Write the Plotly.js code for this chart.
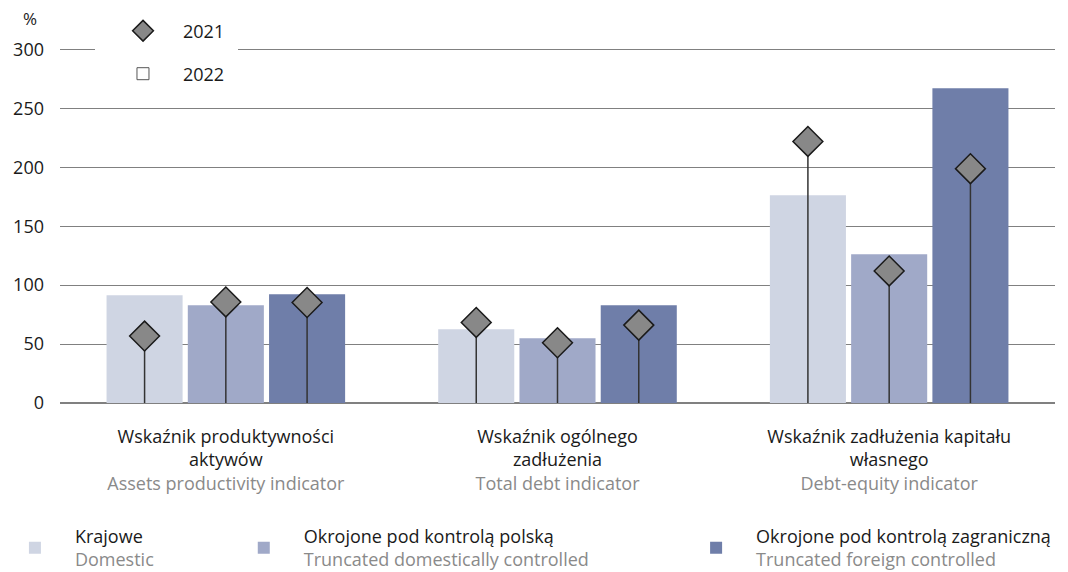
<!DOCTYPE html>
<html>
<head>
<meta charset="utf-8">
<script src="https://cdn.plot.ly/plotly-3.0.1.min.js"></script>
<style>
    html, body { margin: 0; padding: 0; background: #fff; }
    #chart { width: 1068px; height: 572px; }
</style>
</head>
<body>
<div id="chart"></div>
<script>
// === Data ===
const categories = ["Wskaźnik produktywności aktywów", "Wskaźnik ogólnego zadłużenia", "Wskaźnik zadłużenia kapitału własnego"];
const categoriesPl = ["Wskaźnik produktywności<br>aktywów", "Wskaźnik ogólnego<br>zadłużenia", "Wskaźnik zadłużenia kapitału<br>własnego"];
const categoriesEn = ["Assets productivity indicator", "Total debt indicator", "Debt-equity indicator"];

const groupsPl = ["Krajowe", "Okrojone pod kontrolą polską", "Okrojone pod kontrolą zagraniczną"];
const groupsEn = ["Domestic", "Truncated domestically controlled", "Truncated foreign controlled"];

// 2022 (bars)
const domestic2022 = [91.5, 62.7, 176.3];
const polish2022 = [83.0, 55.0, 126.3];
const foreign2022 = [92.4, 83.0, 267.2];

// 2021 (diamonds)
const domestic2021 = [56.8, 68.4, 222.0];
const polish2021 = [85.8, 51.1, 112.1];
const foreign2021 = [85.3, 66.1, 198.9];

const yTicks = [0, 50, 100, 150, 200, 250, 300];

// === Style ===
const colors = ['#cfd5e3', '#a0a9c8', '#6f7ea9'];
const grey = '#8a8a8a';
const font = '"Open Sans", "Noto Sans", sans-serif';

const bars2022 = [domestic2022, polish2022, foreign2022];
const diamonds2021 = [domestic2021, polish2021, foreign2021];
const groupIds = ['d', 'p', 'f'];
const bottomLegends = ['legend3', 'legend4', 'legend5'];

const traces = [];

bars2022.forEach((vals, i) => {
    traces.push({
        type: 'bar',
        x: categories,
        y: vals,
        name: groupsPl[i] + '<br><span style="color:' + grey + '">' + groupsEn[i] + '</span>',
        offsetgroup: groupIds[i],
        legend: bottomLegends[i],
        marker: { color: colors[i], line: { width: 0 } },
        hoverinfo: 'y'
    });
});

diamonds2021.forEach((vals, i) => {
    traces.push({
        type: 'scatter',
        mode: 'markers',
        x: categories,
        y: vals,
        name: '2021',
        offsetgroup: groupIds[i],
        legend: 'legend',
        legendgroup: 'y2021',
        showlegend: i === 0,
        marker: { symbol: 'diamond', size: 23, color: '#888888', line: { color: '#1a1a1a', width: 1.5 } },
        error_y: {
            type: 'data', symmetric: false,
            array: vals.map(() => 0), arrayminus: vals,
            width: 0, thickness: 1.5, color: '#333333'
        },
        hoverinfo: 'y'
    });
});

// legend-only entry for 2022 (no visible point)
traces.push({
    type: 'bar',
    x: [categories[0]],
    y: [null],
    name: '2022',
    offsetgroup: 'f',
    legend: 'legend2',
    marker: { color: '#ffffff', line: { color: '#555555', width: 1 } }
});

const tickText = categoriesPl.map((t, i) => t + '<br><span style="color:' + grey + '">' + categoriesEn[i] + '</span>');

const legendBase = {
    xanchor: 'left', yanchor: 'top',
    orientation: 'v',
    bgcolor: 'rgba(0,0,0,0)',
    borderwidth: 0,
    itemwidth: 70,
    valign: 'middle',
    font: { family: font, size: 18, color: '#1a1a1a' }
};

const layout = {
    width: 1068,
    height: 572,
    margin: { l: 60, r: 13, t: 45.5, b: 169, pad: 0, autoexpand: false },
    paper_bgcolor: '#ffffff',
    plot_bgcolor: '#ffffff',
    font: { family: font, size: 18, color: '#1a1a1a' },
    barmode: 'group',
    bargap: 0.265,
    bargroupgap: 0.064,
    scattermode: 'group',
    scattergap: 0.265,
    showlegend: true,
    xaxis: {
        type: 'category',
        tickvals: categories,
        ticktext: tickText,
        showgrid: false,
        showline: false,
        zeroline: false,
        automargin: false,
        ticks: '',
        ticklabelstandoff: 21,
        tickfont: { family: font, size: 18, color: '#1a1a1a' }
    },
    yaxis: {
        range: [0, 303],
        tickvals: yTicks,
        showgrid: true,
        gridcolor: '#808080',
        gridwidth: 1,
        zeroline: true,
        zerolinecolor: '#808080',
        zerolinewidth: 1.5,
        showline: false,
        automargin: false,
        ticks: '',
        ticklabelstandoff: 15,
        tickfont: { family: font, size: 18, color: '#1a1a1a' }
    },
    legend: Object.assign({}, legendBase, { x: 0.0352, y: 1.1161, bgcolor: '#ffffff', borderwidth: 8, bordercolor: '#ffffff' }),
    legend2: Object.assign({}, legendBase, { x: 0.0432, y: 0.9734, bgcolor: '#ffffff' }),
    legend3: Object.assign({}, legendBase, { x: -0.0654, y: -0.3217 }),
    legend4: Object.assign({}, legendBase, { x: 0.1646, y: -0.3217 }),
    legend5: Object.assign({}, legendBase, { x: 0.6192, y: -0.3217 }),
    annotations: [{
        text: '%',
        xref: 'paper', yref: 'paper',
        x: -0.030, y: 1.0769,
        xanchor: 'center', yanchor: 'middle',
        showarrow: false,
        font: { family: font, size: 17, color: '#1a1a1a' }
    }]
};

Plotly.newPlot('chart', traces, layout, { displayModeBar: false, staticPlot: true });
</script>
</body>
</html>
